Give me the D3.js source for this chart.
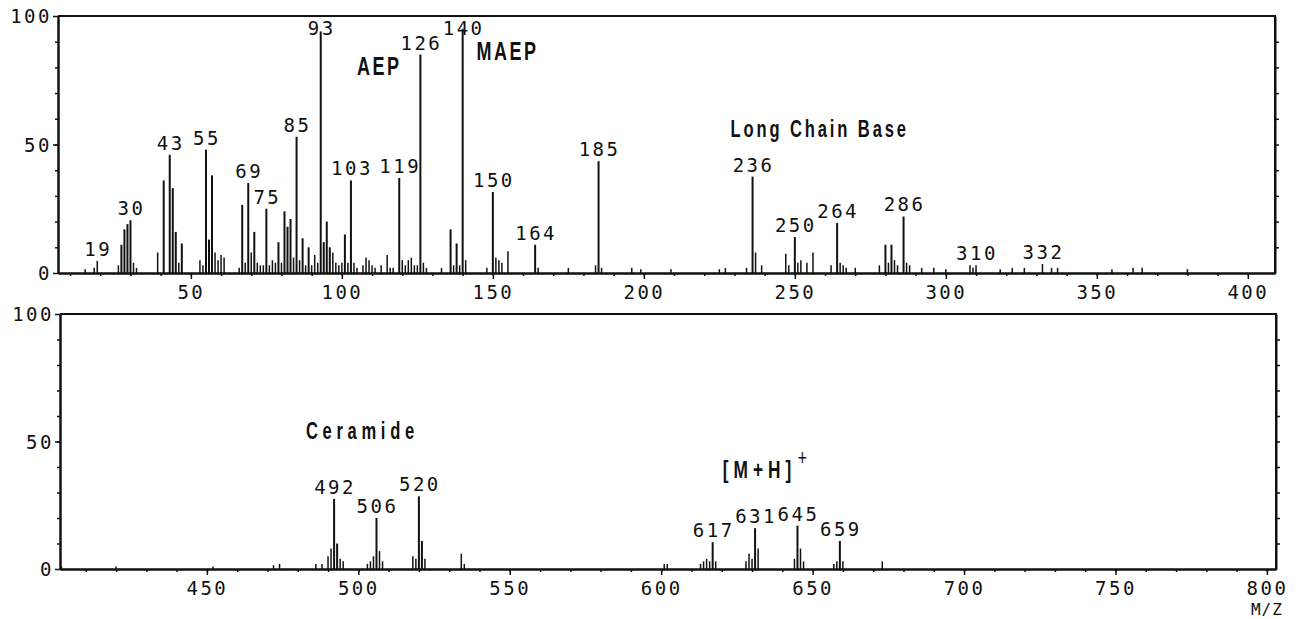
<!DOCTYPE html>
<html lang="en">
<head>
  <meta charset="UTF-8">
  <title>Mass spectrum</title>
  <script src="https://d3js.org/d3.v7.min.js"></script>
  <style>
    body {
      margin: 0;
      padding: 0;
      background: #fff;
    }

    svg {
      display: block;
    }

    .num {
      font-family: 'DejaVu Sans Mono', monospace;
      font-size: 19px;
      letter-spacing: 2.5px;
      fill: #111;
    }

    .note {
      font-family: 'Liberation Sans', Arial, sans-serif;
      font-weight: bold;
      fill: #111;
    }
  </style>
</head>

<body>
  <svg id="chart" width="1300" height="619"></svg>

  <script>
    // upper trace, m/z 6 - 409
    var lowMz = [15, 18, 19, 26, 27, 28, 29, 30, 31, 32, 39, 41, 43, 44, 45, 46, 47,
      53, 54, 55, 56, 57, 58, 59, 60, 61, 66, 67, 68, 69, 70, 71, 72, 73, 74, 75, 76, 77,
      78, 79, 80, 81, 82, 83, 84, 85, 86, 87, 88, 89, 90, 91, 92, 93, 94, 95, 96, 97, 98,
      99, 100, 101, 102, 103, 104, 105, 107, 108, 109, 110, 111, 113, 115, 116, 117, 119,
      120, 121, 122, 123, 124, 125, 126, 127, 128, 133, 136, 137, 138, 139, 140, 141, 148,
      150, 151, 152, 153, 155, 164, 165, 175, 184, 185, 186, 196, 199, 209, 225, 227, 234,
      236, 237, 239, 247, 248, 250, 251, 252, 254, 256, 262, 264, 265, 266, 267, 270, 278,
      280, 281, 282, 283, 284, 286, 287, 288, 292, 296, 300, 308, 309, 310, 318, 322, 326,
      332, 335, 337, 355, 362, 365, 380];
    var lowIntensity = [1.5, 2, 4.7, 3, 11, 17, 19, 20.5, 4, 2, 8, 36, 46, 33, 16, 4, 11.5,
      5, 3, 48, 13, 38, 8, 5, 7, 6, 2, 26.5, 4, 35, 8, 16, 4, 3, 3, 25, 3, 5,
      4, 12, 4, 24, 18, 21, 6, 53, 5, 13.5, 3, 10, 3, 7, 4, 94, 12, 20, 10, 8, 4,
      3, 4, 15, 4, 36, 4, 2, 3, 6, 5, 3, 2, 3, 7, 2, 2, 37,
      5, 3, 5, 6, 3, 3, 85, 4, 2, 2, 17, 3, 11.5, 3, 95, 5, 2,
      31.5, 6, 5, 4, 8.5, 11, 2, 2, 3, 43.5, 2, 2, 1.5, 1.5, 1.5, 2, 2,
      37.5, 8, 3, 7.5, 3, 14, 4, 5, 4, 8, 3, 19.5, 4, 3, 2, 2, 3,
      11, 4, 11, 5, 3, 22, 4, 3, 2, 2, 1.5, 3, 2, 3, 1.5, 2, 2,
      3.5, 2, 2, 1.5, 2, 2, 1.5];
    var lowLabels = [19, 30, 43, 55, 69, 75, 85, 93, 103, 119, 126, 140, 150, 164, 185,
      236, 250, 264, 286, 310, 332];
    var lowTicks = [50, 100, 150, 200, 250, 300, 350, 400];

    // lower trace, m/z 401 - 803
    var highMz = [402, 420, 452, 472, 474, 486, 488, 490, 491, 492, 493, 494, 495, 503,
      504, 505, 506, 507, 508, 518, 519, 520, 521, 522, 534, 535, 601, 602, 613, 614, 615,
      616, 617, 618, 628, 629, 630, 631, 632, 644, 645, 646, 647, 657, 658, 659, 660, 673];
    var highIntensity = [1, 1, 1, 1.5, 2, 2, 2, 5, 8, 27.5, 10, 4, 3, 2,
      3, 5, 20, 7, 3, 5, 4, 28.5, 11, 4, 6, 2, 2, 2, 2, 3, 4,
      3, 10.5, 3, 3, 6, 4, 16, 8, 4, 17, 8, 3, 2, 3, 11, 3, 3];
    var highLabels = [492, 506, 520, 617, 631, 645, 659];
    var highTicks = [450, 500, 550, 600, 650, 700, 750, 800];

    var yTicks = [0, 50, 100];

    // annotations: text, m/z where it starts, intensity level of its baseline
    var noteText = ['AEP', 'MAEP', 'Long Chain Base', 'Ceramide', '[M+H]'];
    var notePanel = [0, 0, 0, 1, 1];
    var noteMz = [105, 144.6, 228.7, 482.7, 620.3];
    var noteLevel = [77, 83, 53, 51, 35.7];

    // font size / letter spacing per annotation (rough, to mimic the plotter lettering)
    var noteStyle = {
      'AEP': [25, 3.5],
      'MAEP': [25, 3.5],
      'Long Chain Base': [23, 4],
      'Ceramide': [23, 6.5],
      '[M+H]': [24, 7]
    };

    var svg = d3.select('#chart');

    var panels = [
      { mz: lowMz, inten: lowIntensity, labels: lowLabels, ticks: lowTicks,
        domain: [6, 409], left: 58, right: 1275, top: 16, base: 273 },
      { mz: highMz, inten: highIntensity, labels: highLabels, ticks: highTicks,
        domain: [401.5, 803], left: 60, right: 1276, top: 314, base: 569 }
    ];

    panels.forEach(function(p) {
      var x = d3.scaleLinear().domain(p.domain).range([p.left, p.right]);
      var y = d3.scaleLinear().domain([0, 100]).range([p.base, p.top]);
      p.x = x;
      p.y = y;
      var g = svg.append('g');

      // frame top + right
      g.append('path')
        .attr('d', 'M' + x.range()[0] + ',' + y(100) + 'H' + x.range()[1] + 'V' + y(0))
        .attr('fill', 'none')
        .attr('stroke', '#111')
        .attr('stroke-width', 2);

      // peaks
      var peaks = d3.zip(p.mz, p.inten);
      g.selectAll('line.peak')
        .data(peaks).enter().append('line')
        .attr('class', 'peak')
        .attr('x1', function(d) { return x(d[0]); })
        .attr('x2', function(d) { return x(d[0]); })
        .attr('y1', y(0))
        .attr('y2', function(d) { return y(d[1]); })
        .attr('stroke', '#111')
        .attr('stroke-width', function(d) { return d[1] > 9 ? 2 : 1.5; });

      // minor x ticks every 10
      var minor = d3.range(Math.ceil(p.domain[0] / 10) * 10, p.domain[1], 10);
      var xMinor = g.append('g')
        .attr('transform', 'translate(0,' + y(0) + ')')
        .call(d3.axisBottom(x).tickValues(minor).tickSize(3).tickSizeOuter(0).tickFormat(''));

      var xAxis = g.append('g')
        .attr('transform', 'translate(0,' + y(0) + ')')
        .call(d3.axisBottom(x).tickValues(p.ticks).tickSize(6).tickSizeOuter(0).tickPadding(7));

      var yMinor = g.append('g')
        .attr('transform', 'translate(' + x.range()[0] + ',0)')
        .call(d3.axisLeft(y).tickValues(d3.range(10, 100, 10)).tickSize(3).tickSizeOuter(0).tickFormat(''));

      var yAxis = g.append('g')
        .attr('transform', 'translate(' + x.range()[0] + ',0)')
        .call(d3.axisLeft(y).tickValues(yTicks).tickSize(5).tickSizeOuter(0).tickPadding(1));

      var yRight = g.append('g')
        .attr('transform', 'translate(' + x.range()[1] + ',0)')
        .call(d3.axisRight(y).tickValues(d3.range(10, 100, 10)).tickSize(4).tickSizeOuter(0).tickFormat(''));

      [xMinor, xAxis, yMinor, yAxis, yRight].forEach(function(a) {
        a.attr('font-family', null).attr('font-size', null);
        a.selectAll('.domain').attr('stroke', '#111').attr('stroke-width', 2);
        a.selectAll('.tick line').attr('stroke', '#111').attr('stroke-width', 1.5);
        a.selectAll('.tick text').attr('class', 'num').attr('fill', null);
      });
      yAxis.selectAll('.tick text').attr('dy', '0.36em');

      // peak labels
      g.selectAll('text.peak-label')
        .data(p.labels).enter().append('text')
        .attr('class', 'num peak-label')
        .attr('text-anchor', 'middle')
        .attr('x', function(m) { return x(m) + 1; })
        .attr('y', function(m) {
          var v = p.inten[p.mz.indexOf(m)];
          return Math.max(y(v) - 5, y(100) + 19);
        })
        .text(function(m) { return m; });
    });

    // annotations
    noteText.forEach(function(t, i) {
      var p = panels[notePanel[i]];
      var tx = p.x(noteMz[i]);
      var ty = p.y(noteLevel[i]);
      var st = noteStyle[t];
      var txt = svg.append('text')
        .attr('class', 'note')
        .attr('transform', 'translate(' + tx + ',' + ty + ') scale(0.72,1)')
        .style('font-size', st[0] + 'px')
        .style('letter-spacing', st[1] + 'px')
        .text(t);
      if (t === '[M+H]') {
        txt.append('tspan')
          .attr('dy', -13)
          .attr('dx', 2)
          .style('font-size', '22px')
          .style('font-weight', 'normal')
          .text('+');
      }
    });

    svg.append('text')
      .attr('class', 'num')
      .attr('text-anchor', 'middle')
      .attr('x', panels[1].x(800))
      .attr('y', 615)
      .style('font-size', '16px')
      .style('letter-spacing', '1px')
      .text('M/Z');
  </script>
</body>
</html>
